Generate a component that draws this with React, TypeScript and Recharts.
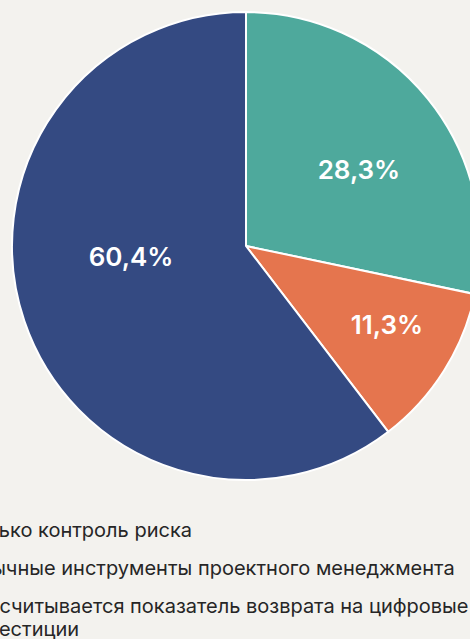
import { PieChart, Pie, Cell, Legend } from 'recharts';

const categories = [
  'Только контроль риска',
  'Обычные инструменты проектного менеджмента',
  'Рассчитывается показатель возврата на цифровые инвестиции',
];
const shares = [28.3, 11.3, 60.4];
const colors = ['#4ea99c', '#e5754e', '#344a82'];

// label placement tweaks per slice (radius ratio, angle nudge in degrees)
const labelRadius = [0.584, 0.689, 0.493];
const labelNudge = [-4.8, 3.2, -13.7];

const data = categories.map((name, i) => ({ name, value: shares[i] }));

const RADIAN = Math.PI / 180;
const fmt = (v: number) => v.toFixed(1).replace('.', ',') + '%';

const renderLabel = (props: any) => {
  const { cx, cy, midAngle, outerRadius, index, value } = props;
  const r = outerRadius * labelRadius[index];
  const a = (midAngle + labelNudge[index]) * RADIAN;
  const x = cx + r * Math.cos(-a);
  const y = cy + r * Math.sin(-a);
  return (
    <text
      x={x}
      y={y}
      fill="#fff"
      textAnchor="middle"
      dominantBaseline="central"
      fontFamily="Inter, sans-serif"
      fontWeight={600}
      fontSize={26}
    >
      {fmt(value)}
    </text>
  );
};

const renderLegend = () => (
  <div style={{ fontFamily: 'Inter, sans-serif', fontSize: 20, color: '#262626' }}>
    {categories.map((c, i) => (
      <div key={c} style={{ display: 'flex', alignItems: 'flex-start', marginBottom: 15 }}>
        <span
          style={{
            width: 12,
            height: 12,
            borderRadius: 6,
            background: colors[i],
            marginTop: 6,
            marginRight: 10,
            flexShrink: 0,
          }}
        />
        <span style={{ width: 540, lineHeight: '23px' }}>{c}</span>
      </div>
    ))}
  </div>
);

export default function App() {
  return (
    <div
      style={{
        position: 'fixed',
        left: 0,
        top: 0,
        width: 470,
        height: 639,
        overflow: 'hidden',
        background: '#f3f2ee',
      }}
    >
      <PieChart width={470} height={639} margin={{ top: 0, right: 0, bottom: 0, left: 0 }}>
        <Pie
          data={data}
          dataKey="value"
          nameKey="name"
          cx={246}
          cy={246}
          outerRadius={234}
          startAngle={90}
          endAngle={-270}
          stroke="#ffffff"
          strokeWidth={2}
          label={renderLabel}
          labelLine={false}
          isAnimationActive={false}
        >
          {data.map((d, i) => (
            <Cell key={d.name} fill={colors[i]} />
          ))}
        </Pie>
        <Legend
          content={renderLegend}
          wrapperStyle={{ position: 'absolute', left: -58, top: 519, width: 600, bottom: 'auto' }}
        />
      </PieChart>
    </div>
  );
}
